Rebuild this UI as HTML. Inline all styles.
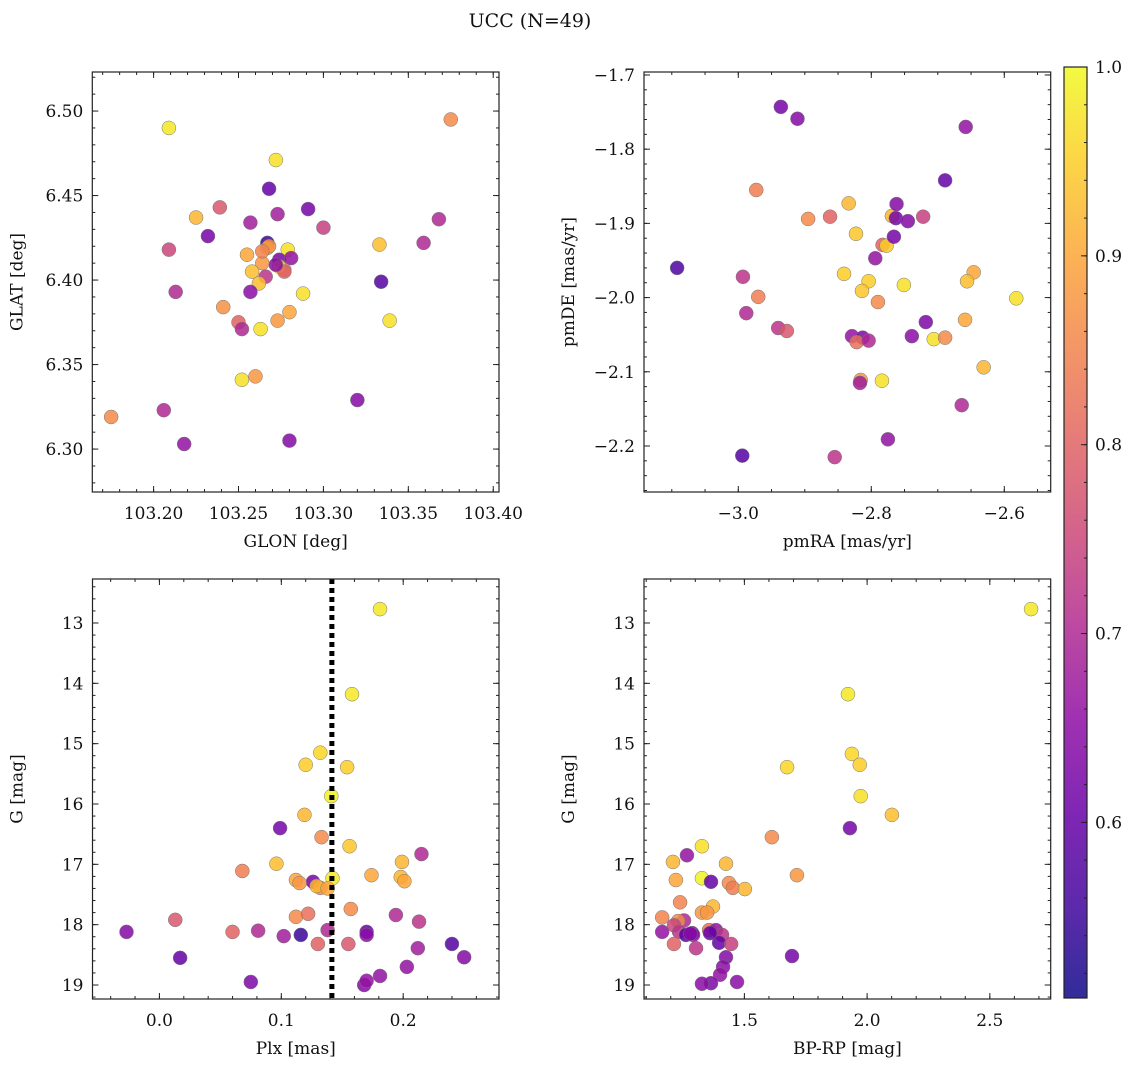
<!DOCTYPE html>
<html><head><meta charset="utf-8"><style>
body{margin:0;background:#fff;}
svg text{font-family:"DejaVu Serif","Liberation Serif",serif;fill:#111;}
</style></head><body>
<svg id="fig" width="1136" height="1067" xmlns="http://www.w3.org/2000/svg">
<defs><linearGradient id="cmap" x1="0" y1="1" x2="0" y2="0">
<stop offset="0" stop-color="#0d0887"/><stop offset="0.1" stop-color="#41049d"/><stop offset="0.2" stop-color="#6a00a8"/><stop offset="0.3" stop-color="#8f0da4"/><stop offset="0.4" stop-color="#b12a90"/><stop offset="0.5" stop-color="#cc4778"/><stop offset="0.6" stop-color="#e16462"/><stop offset="0.7" stop-color="#f2844b"/><stop offset="0.8" stop-color="#fca636"/><stop offset="0.9" stop-color="#fcce25"/><stop offset="1" stop-color="#f0f921"/></linearGradient></defs>
<text x="530" y="27" text-anchor="middle" font-size="19">UCC (N=49)</text>
</svg>
<script>
// ---- data ----
const p1Glon=[103.209,103.375,103.272,103.268,103.291,103.239,103.225,103.257,103.273,103.232,103.300,103.368,103.359,103.209,103.333,103.267,103.267,103.279,103.264,103.274,103.277,103.274,103.258,103.266,103.262,103.257,103.288,103.241,103.280,103.273,103.250,103.252,103.263,103.252,103.260,103.213,103.334,103.339,103.175,103.206,103.218,103.320,103.280,103.268,103.264,103.277,103.272,103.255,103.281];
const p1Glat=[6.490,6.495,6.471,6.454,6.442,6.443,6.437,6.434,6.439,6.426,6.431,6.436,6.422,6.418,6.421,6.422,6.419,6.418,6.410,6.412,6.406,6.408,6.405,6.402,6.398,6.393,6.392,6.384,6.381,6.376,6.375,6.371,6.371,6.341,6.343,6.393,6.399,6.376,6.319,6.323,6.303,6.329,6.305,6.420,6.417,6.405,6.409,6.415,6.413];
const p1Prob=[.98,.86,.97,.60,.62,.78,.92,.68,.68,.62,.74,.70,.70,.75,.93,.55,.95,.97,.88,.62,.84,.96,.93,.72,.93,.65,.97,.87,.90,.88,.80,.70,.97,.97,.88,.70,.58,.97,.86,.70,.66,.64,.64,.87,.85,.80,.65,.90,.66];
const p2PmRA=[-2.936,-2.911,-2.658,-2.689,-2.973,-2.895,-2.862,-2.834,-2.823,-2.769,-2.763,-2.762,-2.745,-2.722,-2.783,-2.777,-2.766,-2.794,-3.092,-2.993,-2.841,-2.804,-2.814,-2.790,-2.751,-2.646,-2.656,-2.582,-2.970,-2.988,-2.940,-2.927,-2.829,-2.813,-2.822,-2.718,-2.739,-2.706,-2.689,-2.659,-2.631,-2.816,-2.817,-2.784,-2.664,-2.775,-2.994,-2.855,-2.804];
const p2PmDE=[-1.743,-1.759,-1.770,-1.842,-1.855,-1.894,-1.891,-1.873,-1.914,-1.890,-1.893,-1.874,-1.897,-1.891,-1.929,-1.930,-1.918,-1.947,-1.960,-1.972,-1.968,-1.978,-1.991,-2.006,-1.983,-1.966,-1.978,-2.001,-1.999,-2.021,-2.041,-2.045,-2.052,-2.054,-2.060,-2.033,-2.052,-2.056,-2.054,-2.030,-2.094,-2.111,-2.115,-2.112,-2.145,-2.191,-2.213,-2.215,-2.058];
const p2Prob=[.62,.64,.66,.60,.84,.86,.80,.92,.94,.92,.62,.64,.64,.74,.80,.95,.62,.66,.57,.72,.95,.95,.94,.86,.97,.90,.93,.97,.84,.70,.72,.78,.66,.63,.82,.63,.65,.97,.86,.90,.92,.88,.68,.97,.70,.66,.58,.72,.70];
const p3Plx=[0.181,0.158,0.132,0.120,0.154,0.141,0.119,0.099,0.133,0.156,0.215,0.199,0.096,0.112,0.126,0.115,0.132,0.129,0.142,0.174,0.068,0.198,0.201,0.157,0.112,0.122,0.194,0.213,0.013,-0.027,0.060,0.081,0.102,0.116,0.130,0.138,0.155,0.170,0.170,0.212,0.240,0.250,0.017,0.203,0.181,0.075,0.168,0.170,0.138];
const p3G=[12.77,14.18,15.15,15.35,15.39,15.87,16.18,16.40,16.55,16.70,16.83,16.96,16.99,17.26,17.29,17.31,17.39,17.36,17.23,17.18,17.11,17.21,17.28,17.74,17.87,17.82,17.84,17.95,17.92,18.12,18.12,18.10,18.19,18.17,18.32,18.09,18.32,18.12,18.17,18.39,18.32,18.54,18.55,18.70,18.85,18.95,19.00,18.93,17.40];
const p3Prob=[.98,.98,.96,.95,.95,.99,.92,.62,.86,.94,.70,.92,.93,.90,.62,.88,.86,.92,.98,.90,.84,.92,.90,.86,.86,.82,.70,.72,.78,.64,.80,.70,.68,.55,.80,.70,.78,.60,.65,.68,.58,.64,.60,.66,.66,.63,.64,.66,.90];
const p4BpRp=[2.668,1.922,1.938,1.970,1.674,1.974,2.101,1.930,1.612,1.327,1.266,1.209,1.425,1.221,1.327,1.364,1.437,1.453,1.502,1.238,1.372,1.327,1.348,1.165,1.254,1.230,1.213,1.165,1.234,1.262,1.287,1.291,1.356,1.384,1.409,1.397,1.446,1.213,1.303,1.425,1.413,1.401,1.364,1.327,1.470,1.694,1.714,1.360,1.280];
const p4G=[12.77,14.18,15.17,15.35,15.39,15.87,16.18,16.40,16.55,16.70,16.85,16.96,16.99,17.26,17.23,17.29,17.31,17.39,17.41,17.63,17.70,17.80,17.80,17.88,17.93,17.94,18.01,18.12,18.12,18.17,18.14,18.17,18.09,18.09,18.17,18.30,18.32,18.32,18.39,18.54,18.70,18.83,18.97,18.98,18.95,18.52,17.18,18.14,18.15];
const p4Prob=[.98,.98,.96,.95,.96,.97,.93,.62,.86,.97,.66,.92,.92,.90,.99,.60,.86,.84,.92,.85,.92,.88,.88,.85,.70,.86,.75,.66,.72,.58,.63,.65,.82,.66,.72,.60,.74,.80,.72,.64,.65,.66,.63,.65,.65,.62,.88,.60,.64];
const plxLine=[0.1415];
const cbTicks=[0.6,0.7,0.8,0.9,1.0];
const pmin=0.507,pmax=1.0;
// ---- helpers ----
const svg=document.getElementById('fig');
const NS='http://www.w3.org/2000/svg';
function mk(t,a,p){const e=document.createElementNS(NS,t);for(const k in a)e.setAttribute(k,a[k]);(p||svg).appendChild(e);return e;}
const stops=[[13,8,135],[65,4,157],[106,0,168],[143,13,164],[177,42,144],[204,71,120],[225,100,98],[242,132,75],[252,166,54],[252,206,37],[240,249,33]];
function plasma(v){let t=(v-pmin)/(pmax-pmin);t=Math.max(0,Math.min(1,t))*10;const i=Math.min(9,Math.floor(t)),f=t-i;const a=stops[i],b=stops[i+1];return 'rgb('+a.map((c,j)=>Math.round(c+(b[j]-c)*f)).join(',')+')';}
function fmt(v,d){const s=Math.abs(v).toFixed(d);return (v<-1e-9?'\u2212':'')+s;}
function panel(o){
  const g=mk('g',{});
  
  
  const X=v=>o.x0+(v-o.xmin)/(o.xmax-o.xmin)*(o.x1-o.x0);
  const Y=o.invert?(v=>o.y0+(v-o.ymin)/(o.ymax-o.ymin)*(o.y1-o.y0)):(v=>o.y1-(v-o.ymin)/(o.ymax-o.ymin)*(o.y1-o.y0));
  const tk=mk('g',{stroke:'#222','stroke-width':1},g);
  function ticksX(step,len,lab,dec){const s=Math.ceil(o.xmin/step-1e-9);for(let i=s;i*step<=o.xmax+1e-9;i++){const v=i*step,px=X(v);mk('line',{x1:px,x2:px,y1:o.y1,y2:o.y1-len},tk);mk('line',{x1:px,x2:px,y1:o.y0,y2:o.y0+len},tk);if(lab){const t=mk('text',{x:px,y:o.y1+27,'text-anchor':'middle','font-size':17},g);t.textContent=fmt(v,dec);}}}
  function ticksY(step,len,lab,dec){const s=Math.ceil(o.ymin/step-1e-9);for(let i=s;i*step<=o.ymax+1e-9;i++){const v=i*step,py=Y(v);mk('line',{x1:o.x0,x2:o.x0+len,y1:py,y2:py},tk);mk('line',{x1:o.x1,x2:o.x1-len,y1:py,y2:py},tk);if(lab){const t=mk('text',{x:o.x0-9,y:py+6,'text-anchor':'end','font-size':17},g);t.textContent=fmt(v,dec);}}}
  ticksX(o.xmi,3,false);ticksX(o.xma,6,true,o.xd);ticksY(o.ymi,3,false);ticksY(o.yma,6,true,o.yd);
  const pts=mk('g',{},g);
  for(let i=0;i<o.xs.length;i++){const c=mk('circle',{cx:X(o.xs[i]),cy:Y(o.ys[i]),r:7,fill:plasma(o.cs[i]),'fill-opacity':0.85,stroke:'#777','stroke-width':0.5},pts);
    
    }
  if(o.vline){for(const v of o.vline){const l=mk('line',{x1:X(v),x2:X(v),y1:o.y0,y2:o.y1,stroke:'#000','stroke-width':5,'stroke-dasharray':'5 4'},g);
    
    }}
  mk('rect',{x:o.x0,y:o.y0,width:o.x1-o.x0,height:o.y1-o.y0,fill:'none',stroke:'#222','stroke-width':1.2},g);
  const xl=mk('text',{x:(o.x0+o.x1)/2,y:o.y1+55,'text-anchor':'middle','font-size':17},g);xl.textContent=o.xlab;
  
  
  const yx=o.x0-70,yc=(o.y0+o.y1)/2;
  const yl=mk('text',{x:yx,y:yc,'text-anchor':'middle','font-size':17,transform:'rotate(-90 '+yx+' '+yc+')'},g);yl.textContent=o.ylab;
  
  
}
panel({name:'glon-glat-panel',x0:92.3,x1:499,y0:72,y1:492,xmin:103.1639,xmax:103.4034,ymin:6.2746,ymax:6.5231,xma:0.05,xmi:0.01,yma:0.05,ymi:0.01,xd:2,yd:2,xs:p1Glon,ys:p1Glat,cs:p1Prob,xlab:'GLON [deg]',ylab:'GLAT [deg]'});
panel({name:'proper-motion-panel',x0:644,x1:1050.7,y0:72,y1:492,xmin:-3.1418,xmax:-2.5302,ymin:-2.262,ymax:-1.696,xma:0.2,xmi:0.05,yma:0.1,ymi:0.02,xd:1,yd:1,xs:p2PmRA,ys:p2PmDE,cs:p2Prob,xlab:'pmRA [mas/yr]',ylab:'pmDE [mas/yr]'});
panel({name:'plx-g-panel',invert:true,x0:92.5,x1:499,y0:579,y1:999,xmin:-0.0549,xmax:0.2786,ymin:12.271,ymax:19.232,xma:0.1,xmi:0.02,yma:1,ymi:0.2,xd:1,yd:0,xs:p3Plx,ys:p3G,cs:p3Prob,vline:plxLine,xlab:'Plx [mas]',ylab:'G [mag]'});
panel({name:'cmd-panel',invert:true,x0:644,x1:1050.7,y0:579,y1:999,xmin:1.091,xmax:2.748,ymin:12.271,ymax:19.232,xma:0.5,xmi:0.1,yma:1,ymi:0.2,xd:1,yd:0,xs:p4BpRp,ys:p4G,cs:p4Prob,xlab:'BP-RP [mag]',ylab:'G [mag]'});
// colorbar
const cb=mk('g',{});


const cbx=1064,cbw=23,cby0=67,cby1=998;
const CY=v=>cby1-(v-pmin)/(pmax-pmin)*(cby1-cby0);
mk('rect',{x:cbx,y:cby0,width:cbw,height:cby1-cby0,fill:'url(#cmap)','fill-opacity':0.85},cb);
mk('rect',{x:cbx,y:cby0,width:cbw,height:cby1-cby0,fill:'none',stroke:'#222','stroke-width':1.2},cb);
for(let v=0.52;v<=1.0001;v+=0.02){mk('line',{x1:cbx+cbw,x2:cbx+cbw-3,y1:CY(v),y2:CY(v),stroke:'#222'},cb);}
for(const v of cbTicks){mk('line',{x1:cbx+cbw,x2:cbx+cbw-6,y1:CY(v),y2:CY(v),stroke:'#222'},cb);
  const t=mk('text',{x:cbx+cbw+8,y:CY(v)+6,'font-size':17},cb);t.textContent=v.toFixed(1);
  
  }
</script>
</body></html>
